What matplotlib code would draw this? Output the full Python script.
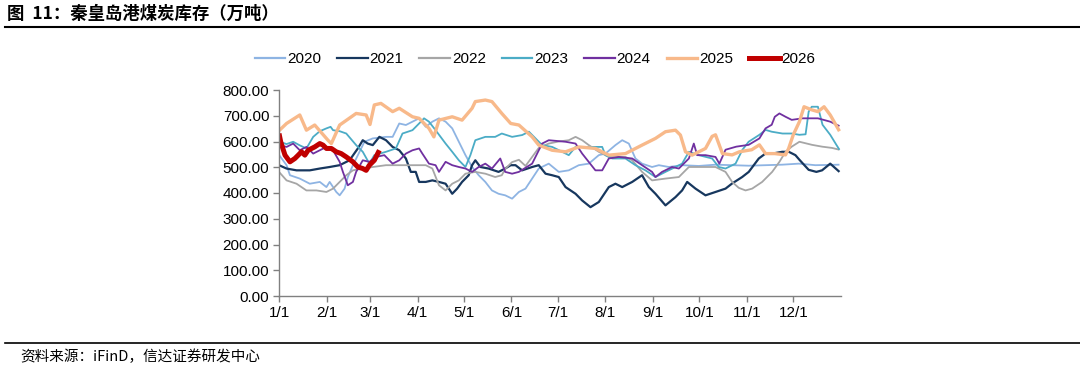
import matplotlib
matplotlib.use("Agg")
import matplotlib.pyplot as plt
from matplotlib.lines import Line2D

plt.rcParams['font.family'] = ['Liberation Sans', 'Noto Sans CJK SC', 'DejaVu Sans']

# ---------------- data (day of year, inventory in 万吨) ----------------
month_ticks = [0, 31, 59, 90, 120, 151, 181, 212, 243, 273, 304, 334]
month_labels = ["1/1", "2/1", "3/1", "4/1", "5/1", "6/1", "7/1", "8/1", "9/1", "10/1", "11/1", "12/1"]
y_ticks = [0, 100, 200, 300, 400, 500, 600, 700, 800]

d2020 = [0, 4.9, 7.1, 13.5, 20.0, 26.5, 30.8, 32.9, 37.2, 39.4, 42.6, 44.7, 48.0, 52.3, 55.5,
         60.9, 69.5, 73.8, 78.1, 82.4, 86.7, 91.0, 95.3, 99.6, 103.9, 108.2, 112.5, 116.8, 121.1,
         125.4, 129.7, 134.0, 138.3, 142.6, 146.9, 151.4, 155.8, 160.1, 164.4, 168.7, 175.2,
         181.7, 188.2, 194.7, 201.2, 207.7, 212.0, 218.5, 222.9, 227.2, 231.5, 235.8, 242.3,
         246.7, 253.2, 261.8, 272.6, 283.5, 294.3, 305.1, 315.9, 326.8, 337.6, 348.4, 364]
v2020 = [548, 508, 469, 456, 436, 443, 423, 443, 404, 391, 417, 462, 508, 560, 599,
         612, 618, 618, 670, 664, 677, 690, 657, 677, 690, 677, 651, 599, 547,
         501, 469, 443, 410, 397, 391, 378, 404, 417, 456, 495, 514,
         482, 488, 508, 514, 547, 553, 586, 605, 592, 534, 514, 501,
         508, 501, 508, 505, 510, 508, 506, 508, 510, 514, 508, 510]

d2021 = [0, 4.9, 11.4, 20.0, 26.5, 32.9, 39.4, 45.8, 51.2, 54.4, 57.6, 60.9, 65.2, 69.5, 73.8,
         78.1, 82.4, 85.6, 88.8, 91.0, 95.3, 99.6, 103.9, 108.2, 112.5, 115.7, 118.9, 123.2,
         125.4, 127.5, 130.8, 136.1, 142.6, 146.9, 150.5, 153.6, 157.9, 164.4, 168.7, 173.1,
         177.4, 181.7, 186.1, 192.6, 196.9, 202.3, 207.7, 214.2, 218.5, 222.9, 229.4, 235.8,
         240.2, 244.5, 251.0, 257.5, 261.8, 265.1, 270.5, 277.0, 283.5, 290.0, 294.3, 300.8,
         305.1, 311.6, 315.9, 320.3, 326.8, 331.1, 335.4, 338.0, 344.0, 349.0, 352.7, 358.0, 364]
v2021 = [508, 495, 488, 488, 495, 501, 508, 527, 573, 605, 592, 586, 618, 605, 579,
         566, 534, 482, 482, 443, 443, 449, 443, 436, 397, 417, 443, 469,
         508, 527, 501, 495, 482, 495, 508, 508, 488, 501, 508, 475,
         469, 462, 423, 397, 371, 345, 365, 423, 436, 423, 443, 469,
         423, 397, 352, 384, 410, 443, 417, 391, 404, 417, 437, 462,
         482, 534, 553, 553, 560, 560, 547, 529, 490, 482, 488, 514, 482]

d2022 = [0, 4.9, 11.4, 17.8, 24.3, 30.8, 35.1, 39.4, 43.7, 48.0, 54.4, 60.9, 69.5, 78.1, 86.7,
         95.3, 99.6, 103.9, 108.2, 112.5, 116.8, 121.1, 127.5, 134.0, 140.4, 144.7, 147.1,
         151.4, 155.8, 160.1, 164.4, 168.7, 175.2, 181.7, 188.2, 192.6, 196.9, 201.2, 207.7,
         214.2, 225.0, 229.4, 235.8, 242.3, 251.0, 259.7, 266.2, 274.8, 283.5, 290.0, 294.3,
         298.6, 303.0, 307.3, 313.8, 320.3, 325.0, 329.0, 333.0, 338.0, 346.2, 352.7, 359.2, 364]
v2022 = [482, 449, 436, 410, 410, 404, 417, 443, 469, 488, 495, 501, 508, 508, 508,
         508, 495, 430, 410, 436, 449, 475, 482, 475, 462, 469, 495,
         520, 529, 505, 540, 575, 592, 600, 605, 618, 605, 586, 560,
         540, 540, 527, 482, 449, 456, 462, 501, 501, 501, 482, 443,
         420, 410, 417, 443, 482, 521, 560, 580, 599, 587, 580, 575, 568]

d2023 = [0, 4.9, 9.2, 13.5, 17.8, 22.2, 26.5, 30.8, 33.5, 35.1, 39.4, 43.7, 50.1, 54.4, 58.7,
         61.9, 69.5, 75.9, 80.2, 86.7, 91.0, 94.2, 97.4, 101.7, 108.2, 112.5, 116.8, 121.1,
         124.3, 127.5, 134.0, 140.4, 144.7, 151.4, 157.9, 162.3, 166.6, 170.9, 177.4, 183.9,
         188.2, 192.6, 199.1, 205.5, 209.9, 212.0, 216.4, 225.0, 231.5, 238.0, 244.5, 251.0,
         257.5, 261.8, 266.2, 272.6, 281.3, 285.6, 290.0, 296.5, 301.0, 305.0, 312.0, 316.0,
         320.0, 327.0, 333.0, 338.0, 342.0, 344.0, 346.0, 350.0, 353.0, 358.0, 362.0, 364]
v2023 = [600, 590, 599, 585, 573, 618, 640, 651, 657, 644, 640, 631, 586, 560, 514,
         547, 560, 573, 631, 644, 670, 690, 677, 644, 592, 560, 527, 501,
         547, 605, 618, 618, 631, 618, 625, 638, 612, 586, 579, 560,
         547, 579, 579, 579, 579, 547, 534, 534, 508, 488, 462, 482,
         501, 514, 560, 547, 534, 501, 495, 514, 568, 599, 626, 645,
         638, 631, 631, 626, 628, 716, 735, 735, 665, 626, 587, 568]

d2024 = [0, 4.9, 9.2, 13.5, 17.8, 22.2, 26.5, 30.8, 35.1, 39.4, 41.5, 44.7, 48.0, 50.1, 54.4,
         58.7, 63.0, 68.4, 73.8, 78.1, 82.4, 86.7, 91.0, 93.1, 97.4, 101.7, 103.9, 108.2, 112.5,
         116.8, 121.1, 125.4, 129.7, 134.0, 138.3, 143.7, 146.9, 151.4, 155.8, 164.4, 170.9,
         175.2, 186.1, 192.6, 196.9, 205.5, 209.9, 214.2, 220.7, 229.4, 235.8, 242.3, 244.5,
         248.8, 255.3, 259.7, 266.2, 269.4, 271.6, 277.0, 283.5, 286.0, 290.0, 297.0, 305.0,
         312.0, 316.0, 320.0, 322.0, 325.0, 329.0, 333.0, 340.0, 350.0, 358.0, 364]
v2024 = [586, 579, 592, 566, 579, 553, 566, 579, 566, 521, 482, 430, 443, 482, 527,
         521, 540, 547, 514, 527, 553, 566, 573, 553, 514, 508, 482, 521, 508,
         501, 495, 482, 501, 514, 495, 534, 482, 475, 482, 514, 592,
         605, 599, 592, 553, 488, 488, 534, 540, 534, 508, 482, 462,
         482, 501, 495, 534, 592, 547, 547, 540, 514, 568, 580, 587,
         612, 651, 665, 696, 709, 696, 684, 690, 690, 677, 660]

d2025 = [0, 4.9, 13.5, 17.8, 23.2, 31.8, 34.0, 39.4, 50.1, 56.6, 59.1, 61.9, 66.2, 73.8, 78.1,
         86.7, 91.0, 97.4, 100.6, 103.9, 112.5, 118.9, 125.4, 127.5, 134.0, 138.3, 144.7,
         150.5, 155.8, 164.4, 168.7, 177.4, 186.1, 194.7, 205.5, 214.2, 225.0, 235.8, 244.5,
         251.0, 257.5, 260.7, 264.0, 268.3, 277.0, 281.3, 283.5, 288.0, 294.3, 299.0, 307.0,
         312.0, 316.0, 322.0, 329.0, 331.0, 334.0, 338.0, 341.0, 346.0, 350.0, 354.0, 358.0, 364]
v2025 = [642, 670, 703, 644, 664, 605, 592, 664, 709, 703, 666, 742, 748, 716, 729,
         696, 690, 651, 618, 683, 696, 683, 729, 755, 761, 755, 709,
         670, 664, 618, 586, 566, 560, 579, 573, 547, 553, 586, 612,
         638, 644, 625, 560, 547, 573, 620, 626, 553, 548, 560, 568,
         587, 553, 553, 548, 573, 626, 677, 735, 723, 716, 735, 703, 640]

d2026 = [0, 1.1, 3.9, 7.1, 10.3, 12.5, 14.6, 16.8, 18.9, 23.2, 26.5, 28.6, 30.8, 34.0, 37.2,
         40.4, 43.7, 48.0, 51.2, 54.4, 56.6, 58.7, 61.9, 65.2]
v2026 = [631, 599, 547, 521, 534, 547, 560, 547, 566, 579, 592, 586, 573, 573, 560,
         553, 540, 521, 501, 495, 488, 508, 527, 566]

years = ["2020", "2021", "2022", "2023", "2024", "2025", "2026"]
days = [d2020, d2021, d2022, d2023, d2024, d2025, d2026]
vals = [v2020, v2021, v2022, v2023, v2024, v2025, v2026]
colors = ["#8EB4E3", "#17375E", "#A6A6A6", "#4BACC6", "#7030A0", "#F8B98A", "#C00000"]
widths = [1.3, 1.6, 1.3, 1.3, 1.3, 2.4, 3.6]

# ---------------- figure ----------------
fig = plt.figure(figsize=(10.8, 3.74), dpi=100)
ax = fig.add_axes([279 / 1080, 1 - 296 / 374, (841 - 279) / 1080, (296 - 90) / 374])

for yr, d, v, c, w in zip(years, days, vals, colors, widths):
    ax.plot(d, v, color=c, lw=w, solid_joinstyle='round', solid_capstyle='butt')

ax.set_xlim(0, 365)
ax.set_ylim(0, 800)
ax.set_xticks(month_ticks)
ax.set_xticklabels(month_labels)
ax.set_yticks(y_ticks)
ax.set_yticklabels([f"{t:.2f}" for t in y_ticks])
for s in ["top", "right"]:
    ax.spines[s].set_visible(False)
for s in ["left", "bottom"]:
    ax.spines[s].set_color("#808080")
    ax.spines[s].set_linewidth(1.0)
ax.tick_params(axis='both', direction='out', length=4, width=1.0, color="#808080",
               labelsize=11, labelcolor="#000000", pad=3)

handles = [Line2D([], [], color=c, lw=w if w > 2 else 1.6) for c, w in zip(colors, widths)]
fig.legend(handles, years, loc='center', bbox_to_anchor=(535 / 1080, 1 - 59 / 374), ncol=7,
           frameon=False, fontsize=11, handlelength=2.0, handletextpad=0.12,
           columnspacing=1.05, borderpad=0, borderaxespad=0)

# title and rules
fig.text(7 / 1080, 1 - 14 / 374, "图  11：秦皇岛港煤炭库存（万吨）", fontsize=12.5, fontweight='bold',
         family=['Noto Sans CJK SC'], ha='left', va='center', color="#000000")
fig.add_artist(Line2D([5 / 1080, 1.0], [1 - 27 / 374, 1 - 27 / 374], color="#000000", lw=1.5))
fig.add_artist(Line2D([5 / 1080, 1.0], [1 - 343 / 374, 1 - 343 / 374], color="#000000", lw=1.2))
fig.text(20 / 1080, 1 - 357 / 374, "资料来源：iFinD，信达证券研发中心", fontsize=10.5, style='italic',
         family=['Noto Sans CJK SC'], ha='left', va='center', color="#000000")

fig.savefig("out.png", dpi=100)
